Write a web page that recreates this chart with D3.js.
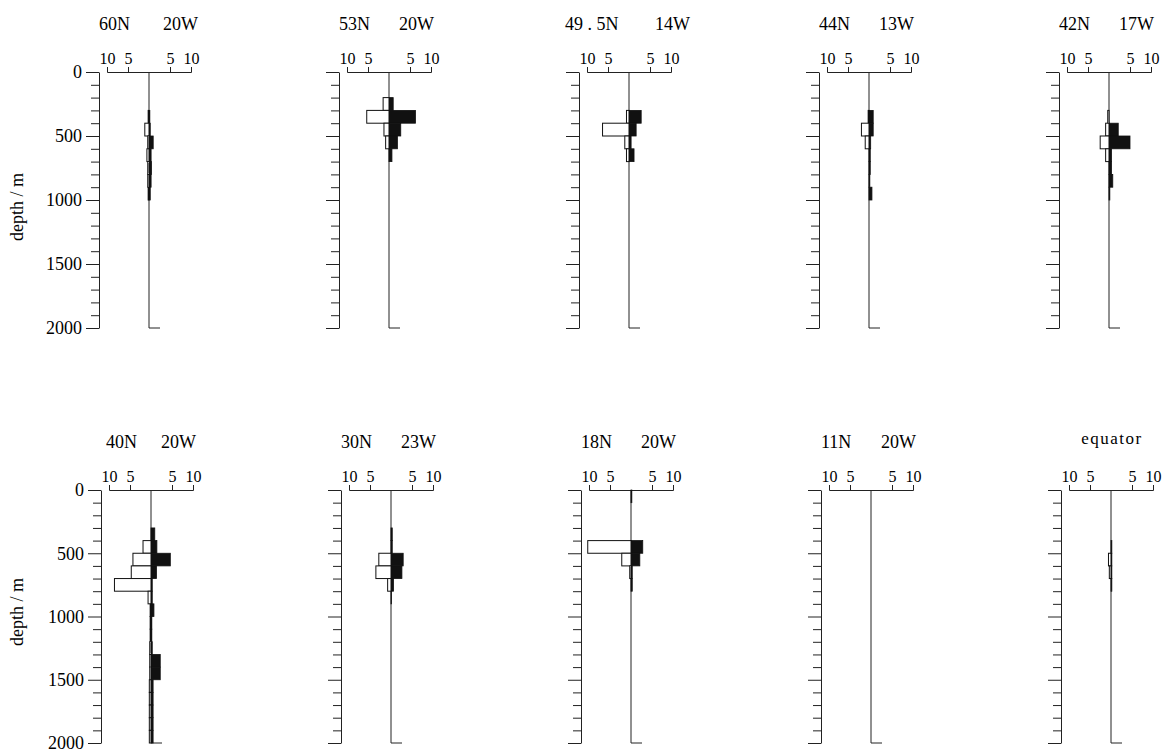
<!DOCTYPE html>
<html><head><meta charset="utf-8">
<script src="https://cdn.jsdelivr.net/npm/d3@7"></script>
<style>
body{margin:0;background:#fff}
svg{display:block}
svg text{font-family:"Liberation Serif","Times New Roman","DejaVu Serif",serif !important;fill:#000}
</style>
</head><body>
<svg id="chart" width="1173" height="753"></svg>
<script>
// ---------- data ----------
const latLabels = ["60N","53N","49 . 5N","44N","42N","40N","30N","18N","11N","equator"];
const lonLabels = ["20W","20W","14W","13W","17W","20W","23W","20W","20W",""];
const depthTicks = [0,500,1000,1500,2000];
const valueTicks = [-10,-5,5,10];           // shown as 10 5 | 5 10
const binTops = d3.range(0,2000,100);       // 100 m depth bins

// open (left) bars, per 100 m bin from 0 to 2000 m
const open60N  = [0,0,0,0.2,1.0,0.3,0.5,0.3,0.3,0.2,0,0,0,0,0,0,0,0,0,0];
const open53N  = [0,0,1.4,5.3,1.2,0.8,0,0,0,0,0,0,0,0,0,0,0,0,0,0];
const open49N  = [0,0,0,0.6,6.3,1.0,0.6,0,0,0,0,0,0,0,0,0,0,0,0,0];
const open44N  = [0,0,0,0.2,1.8,0.9,0,0,0,0,0,0,0,0,0,0,0,0,0,0];
const open42N  = [0,0,0,0.3,0.8,2.1,0.8,0,0,0,0,0,0,0,0,0,0,0,0,0];
const open40N  = [0,0,0,0,1.9,4.3,4.7,8.7,0.7,0.2,0.2,0.2,0.3,0.3,0.3,0.4,0.4,0.4,0.4,0.4];
const open30N  = [0,0,0,0,0,2.9,3.6,0.8,0,0,0,0,0,0,0,0,0,0,0,0];
const open18N  = [0,0,0,0,10.3,2.2,0.3,0,0,0,0,0,0,0,0,0,0,0,0,0];
const open11N  = [0,0,0,0,0,0,0,0,0,0,0,0,0,0,0,0,0,0,0,0];
const openEq   = [0,0,0,0,0,0.6,0.4,0,0,0,0,0,0,0,0,0,0,0,0,0];

// filled (right) bars
const fill60N  = [0,0,0,0.2,0.3,1.0,0.5,0.6,0.5,0.3,0,0,0,0,0,0,0,0,0,0];
const fill53N  = [0,0,1.0,6.3,2.8,2.0,0.7,0,0,0,0,0,0,0,0,0,0,0,0,0];
const fill49N  = [0,0,0,2.9,1.7,0.5,1.2,0,0,0,0,0,0,0,0,0,0,0,0,0];
const fill44N  = [0,0,0,1.0,1.0,0.4,0.3,0.3,0.2,0.7,0,0,0,0,0,0,0,0,0,0];
const fill42N  = [0,0,0,0,2.2,5.0,0.6,0.6,0.9,0.2,0,0,0,0,0,0,0,0,0,0];
const fill40N  = [0,0,0,0.9,1.4,4.6,1.3,0.3,0.3,0.7,0.2,0.2,0.3,2.2,2.2,0.5,0.5,0.5,0.5,0.5];
const fill30N  = [0,0,0,0.3,0.3,2.9,2.6,0.6,0.1,0,0,0,0,0,0,0,0,0,0,0];
const fill18N  = [0.2,0,0,0,2.8,2.1,0.3,0.3,0,0,0,0,0,0,0,0,0,0,0,0];
const fill11N  = [0,0,0,0,0,0,0,0,0,0,0,0,0,0,0,0,0,0,0,0];
const fillEq   = [0,0,0,0,0.2,0.2,0.2,0.2,0,0,0,0,0,0,0,0,0,0,0,0];

const openBars = [open60N,open53N,open49N,open44N,open42N,open40N,open30N,open18N,open11N,openEq];
const fillBars = [fill60N,fill53N,fill49N,fill44N,fill42N,fill40N,fill30N,fill18N,fill11N,fillEq];

// ---------- layout ----------
const rowTop = [72, 490];
const rowH = [256, 253];
const colX = [99, 339, 579, 819, 1059];
const rowShift = [0, 2];
const latShift = [0,0,-14,0,0, 5,0,0,0,0];
const lonShift = [4,0,16,0,0, 0,0,0,0,0];
const serif = '"Liberation Serif","Times New Roman",serif';

const svg = d3.select("#chart");

latLabels.forEach((lat, i) => {
  const row = Math.floor(i/5), col = i % 5;
  const ax = colX[col] + rowShift[row];
  const cx = ax + 50;
  const top = rowTop[row];
  const y = d3.scaleLinear().domain([0,2000]).range([top, top+rowH[row]]);
  const xv = d3.scaleLinear().domain([-10,10]).range([cx-42, cx+42]);
  const g = svg.append("g");

  // depth axis
  const yAxis = d3.axisLeft(y).tickValues(d3.range(0,2001,100))
    .tickSize(8).tickSizeOuter(0)
    .tickFormat(d => (col===0 && depthTicks.includes(d)) ? d : "");
  const ga = g.append("g").attr("transform",`translate(${ax},0)`).call(yAxis)
    .attr("font-family", serif);
  ga.select(".domain").attr("stroke","#222");
  ga.selectAll(".tick line").attr("stroke","#222");
  ga.selectAll(".tick").filter(d => depthTicks.includes(d)).select("line").attr("x2",-13);
  ga.selectAll(".tick text").attr("x",-17).attr("font-size",18).attr("fill","#000");

  // value axis on top
  const xAxis = d3.axisTop(xv).tickValues(valueTicks).tickSize(5).tickPadding(3)
    .tickFormat(d => Math.abs(d));
  const gx = g.append("g").attr("transform",`translate(0,${top})`).call(xAxis)
    .attr("font-family", serif);
  gx.select(".domain").attr("stroke","#222");
  gx.selectAll(".tick line").attr("stroke","#222");
  gx.selectAll(".tick text").attr("font-size",16).attr("fill","#000");

  // centre line with foot
  const yb = y(2000);
  g.append("line").attr("x1",xv(0)).attr("x2",xv(0)).attr("y1",y(0)).attr("y2",yb)
    .attr("stroke","#222").attr("stroke-width",1);
  g.append("line").attr("x1",xv(0)).attr("x2",xv(0)+11).attr("y1",yb).attr("y2",yb)
    .attr("stroke","#222").attr("stroke-width",1);

  // filled bars (right)
  g.selectAll("rect.fill").data(binTops.map((d,k)=>({d, v: fillBars[i][k]})).filter(o=>o.v>0))
    .join("rect").attr("class","fill")
    .attr("x", xv(0)).attr("y", o => y(o.d))
    .attr("width", o => xv(o.v) - xv(0)).attr("height", o => y(o.d+100) - y(o.d))
    .attr("fill","#111").attr("stroke","#111").attr("stroke-width",0.8);

  // open bars (left)
  g.selectAll("rect.open").data(binTops.map((d,k)=>({d, v: openBars[i][k]})).filter(o=>o.v>0))
    .join("rect").attr("class","open")
    .attr("x", o => xv(-o.v)).attr("y", o => y(o.d))
    .attr("width", o => xv(0) - xv(-o.v)).attr("height", o => y(o.d+100) - y(o.d))
    .attr("fill","#fff").attr("stroke","#111").attr("stroke-width",1);

  // station labels
  if (lonLabels[i]) {
    g.append("text").attr("x", cx - 50 + latShift[i]).attr("y", top - 42)
      .attr("font-size",18).text(lat);
    g.append("text").attr("x", cx + 10 + lonShift[i]).attr("y", top - 42)
      .attr("font-size",18).text(lonLabels[i]);
  } else {
    g.append("text").attr("x", cx + 1).attr("y", top - 46)
      .attr("text-anchor","middle").attr("font-size",17).attr("letter-spacing",1.5).text(lat);
  }
});

// y axis titles
[207, 612].forEach(cy => {
  svg.append("text").attr("transform",`translate(23,${cy}) rotate(-90)`)
    .attr("text-anchor","middle").attr("font-size",18).text("depth / m");
});
</script>
</body></html>
